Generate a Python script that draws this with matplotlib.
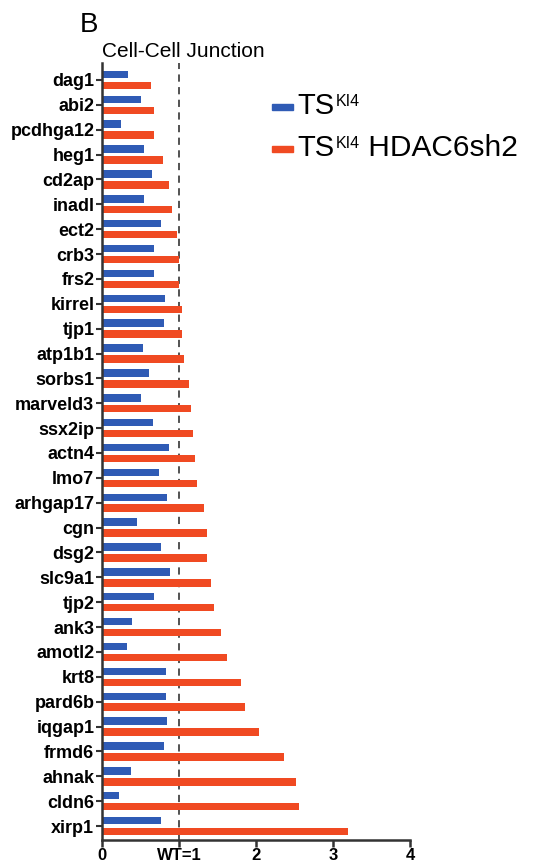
import numpy as np
import matplotlib
matplotlib.use("Agg")
import matplotlib.pyplot as plt
from matplotlib.patches import Rectangle

plt.rcParams['font.family'] = ['Liberation Sans', 'DejaVu Sans']

genes = ['dag1', 'abi2', 'pcdhga12', 'heg1', 'cd2ap', 'inadl', 'ect2', 'crb3',
         'frs2', 'kirrel', 'tjp1', 'atp1b1', 'sorbs1', 'marveld3', 'ssx2ip',
         'actn4', 'lmo7', 'arhgap17', 'cgn', 'dsg2', 'slc9a1', 'tjp2', 'ank3',
         'amotl2', 'krt8', 'pard6b', 'iqgap1', 'frmd6', 'ahnak', 'cldn6', 'xirp1']
ts_ki4 = [0.34, 0.50, 0.25, 0.55, 0.65, 0.55, 0.77, 0.68, 0.68, 0.82, 0.81,
          0.53, 0.61, 0.50, 0.66, 0.87, 0.74, 0.85, 0.46, 0.76, 0.88, 0.68,
          0.39, 0.32, 0.83, 0.83, 0.85, 0.81, 0.38, 0.22, 0.77]
ts_ki4_hdac6 = [0.63, 0.67, 0.68, 0.79, 0.87, 0.91, 0.98, 1.00, 1.00, 1.04, 1.04,
                1.07, 1.13, 1.16, 1.18, 1.21, 1.24, 1.33, 1.36, 1.37, 1.42, 1.45,
                1.55, 1.62, 1.81, 1.86, 2.04, 2.36, 2.52, 2.56, 3.19]
xticks = [0, 1, 2, 3, 4]
xticklabels = ['0', 'WT=1', '2', '3', '4']
series_names = [('TS', 'KI4', ''), ('TS', 'KI4', ' HDAC6sh2')]

blue = '#2f5bb5'
red = '#f04a22'
axis_col = '#333333'

W, H = 535, 865
fig = plt.figure(figsize=(W / 100, H / 100), dpi=100)
ax = fig.add_axes([102 / W, 25 / H, 308 / W, 777 / H])

y = np.arange(len(genes))
h = 0.30
ax.barh(y - 0.22, ts_ki4, height=h, color=blue)
ax.barh(y + 0.22, ts_ki4_hdac6, height=h, color=red)
ax.axvline(1, color='#444444', linestyle=(0, (4, 3)), linewidth=1.3, zorder=0)

ax.set_xlim(0, 4)
ax.set_ylim(len(genes) - 1 + 0.56, -0.68)
ax.set_yticks(y)
ax.set_yticklabels(genes, fontsize=13, fontweight='bold')
ax.set_xticks(xticks)
ax.set_xticklabels(xticklabels, fontsize=12, fontweight='bold')

for side in ['top', 'right']:
    ax.spines[side].set_visible(False)
for side in ['left', 'bottom']:
    ax.spines[side].set_linewidth(1.8)
    ax.spines[side].set_color(axis_col)
ax.tick_params(axis='y', length=4, width=1.5, color=axis_col, pad=1.5)
ax.tick_params(axis='x', length=5, width=1.8, color=axis_col, pad=1)

ax.set_title('Cell-Cell Junction', fontsize=15, loc='left', pad=4, x=0.0)
fig.text(80 / W, 1 - 25 / H, 'B', fontsize=20, va='center', ha='left')

# legend: colour key plus "TS" with a raised "KI4"
renderer = fig.canvas.get_renderer()
for i, (color, (base, sup, rest)) in enumerate(zip([blue, red], series_names)):
    yb = H - (114 + 42 * i)  # baseline in pixels from bottom
    fig.patches.append(Rectangle((272 / W, (yb + 4) / H), 21 / W, 6 / H,
                                 color=color, transform=fig.transFigure))
    t = fig.text(297 / W, yb / H, base, fontsize=21, va='baseline')
    x1 = t.get_window_extent(renderer).x1
    s = fig.text((x1 + 1.5) / W, (yb + 8.5) / H, sup, fontsize=11.5, va='baseline')
    x2 = s.get_window_extent(renderer).x1
    if rest:
        fig.text(x2 / W, yb / H, rest, fontsize=21.5, va='baseline')

fig.savefig('out.png', dpi=100)
